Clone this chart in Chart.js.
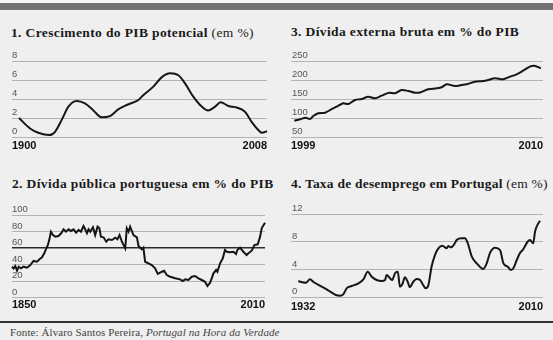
<!DOCTYPE html>
<html><head><meta charset="utf-8">
<script src="https://cdn.jsdelivr.net/npm/chart.js@4/dist/chart.umd.min.js"></script>
<style>
html,body{margin:0;padding:0;}
body{width:553px;height:340px;background:#efefef;position:relative;overflow:hidden;}
.topstrip{position:absolute;left:0;top:0;width:553px;height:3px;background:#f7f7f7;}
.band{position:absolute;left:0;top:3px;width:553px;height:7px;background:#737373;}
.title{position:absolute;font-family:"Liberation Serif",serif;font-size:13.5px;font-weight:bold;color:#1a1a1a;white-space:nowrap;line-height:16px;letter-spacing:0.37px;}
.title span{font-weight:normal;}
.rule{position:absolute;left:0;top:321px;width:553px;height:1.5px;background:#333;}
.src{position:absolute;left:10px;top:326px;font-family:"Liberation Serif",serif;font-size:11px;color:#444;white-space:nowrap;line-height:13px;letter-spacing:0.1px;}
canvas{position:absolute;}
</style></head>
<body>
<div class="topstrip"></div>
<div class="band"></div>
<div class="title" style="left:11px;top:25px;">1. Crescimento do PIB potencial <span>(em %)</span></div>
<div class="title" style="left:291px;top:24px;">3. Dívida externa bruta em % do PIB</div>
<div class="title" style="left:12px;top:176px;">2. Dívida pública portuguesa em % do PIB</div>
<div class="title" style="left:291px;top:176px;letter-spacing:0.22px;">4. Taxa de desemprego em Portugal <span>(em %)</span></div>
<canvas id="c1" width="276" height="115" style="left:0;top:45px;"></canvas>
<canvas id="c3" width="277" height="115" style="left:276px;top:45px;"></canvas>
<canvas id="c2" width="276" height="125" style="left:0;top:195px;"></canvas>
<canvas id="c4" width="277" height="125" style="left:276px;top:195px;"></canvas>
<div class="rule"></div>
<div class="src">Fonte: Álvaro Santos Pereira, <i>Portugal na Hora da Verdade</i></div>
<script>
// 1. Crescimento do PIB potencial (em %)
const pibYears = [1900,1904.8,1908.4,1913.2,1915.7,1918.6,1921.5,1925.1,1928.7,1932.4,1936,1939.6,1943.2,1946.9,1952,1954.1,1958.5,1962.2,1965.8,1969.4,1972.3,1975.9,1979.6,1982.4,1985.4,1987.8,1991.2,1994.8,1998.4,2001.3,2004.2,2005.7,2008];
const pibValues = [2.0,0.9,0.45,0.2,0.55,1.8,3.2,3.8,3.55,2.8,2.07,2.2,2.9,3.37,3.9,4.4,5.3,6.3,6.7,6.5,5.65,4.25,3.2,2.8,3.2,3.65,3.27,3.1,2.66,1.6,0.74,0.45,0.6];
const pibYTicks = [0,2,4,6,8];
const pibXLabels = ['1900','2008'];

// 3. Dívida externa bruta em % do PIB
const extYears = [1999.0,1999.27,1999.54,1999.75,1999.9,2000.14,2000.46,2000.7,2001.02,2001.33,2001.57,2001.89,2002.21,2002.52,2002.84,2003.16,2003.51,2003.8,2004.11,2004.43,2004.75,2004.99,2005.38,2005.78,2006.02,2006.26,2006.65,2006.97,2007.21,2007.6,2008.0,2008.24,2008.56,2008.95,2009.27,2009.59,2009.9,2010.22,2010.43,2010.75];
const extValues = [92.9,96.6,100.8,97.4,105.3,112.4,114,121,129.8,138.6,136.8,147.4,150,156,151.9,158.7,166.6,165,173.7,171,166.6,167,175.5,178,180.8,188.7,184.2,186.8,188.7,195.5,197.4,200,204.5,201.8,208.7,215,224.5,235,237.7,230.8];
const extYTicks = [50,100,150,200,250];
const extXLabels = ['1999','2010'];

// 2. Dívida pública portuguesa em % do PIB
const pubYears = [1850,1851,1852.1,1853.2,1854.2,1855.7,1857.3,1859.5,1861.6,1863.6,1865.8,1867.4,1869,1870.4,1871.7,1872.7,1873.8,1874.6,1875.9,1877.4,1879.4,1881.1,1882.6,1884.1,1885.8,1887.3,1888.9,1890.6,1892.1,1893.6,1895.2,1896.3,1897.4,1898.4,1899.5,1901.2,1902.6,1904.1,1905.3,1906.2,1907.9,1909.6,1911,1913.2,1915.3,1916.7,1918,1919.5,1921.6,1922.6,1923.7,1924.7,1926.8,1929,1930,1932.1,1933.1,1934.2,1936.3,1938.4,1940.5,1942.2,1944.8,1946.2,1947.9,1950,1953.2,1956.3,1958,1959.5,1961.6,1963.7,1965.8,1967.9,1970,1972.1,1973.6,1975.3,1977.4,1979.1,1979.9,1981.6,1983.3,1984.7,1985.8,1987.9,1990,1991.7,1992.5,1994.2,1996.3,1998.4,1999.5,2001.6,2003.3,2005.4,2006.9,2007.9,2010];
const pubValues = [37.5,35.5,38.3,32.6,37.5,35.5,37.5,36.3,39.5,44.4,43.5,46.4,48.8,53.7,59.7,63.7,71.8,79.8,75.8,73.8,74.6,77.9,82.7,79.8,82.7,80.7,82.7,78.6,81.9,79.8,86.7,82.7,77.9,82.7,79.8,85.1,75.8,85.9,83.9,73.8,73,67.7,70.6,69.8,72.6,70.6,75.8,67.7,59.7,83.9,79.8,85.9,75.8,73,62.5,58.5,60.5,43.5,41.6,39.5,35.5,28.7,31.4,32.6,27.4,25.4,23.5,22.2,20.2,22.2,21.4,25.4,26.2,23.5,21.4,19.3,14.1,18.1,29.5,33.5,31.4,41.6,47.6,57.7,55.6,54.9,55.6,52.8,57.7,60.5,55.6,51.6,53.7,56.8,63.7,64.6,73.8,83.9,90.7];
const pubYTicks = [0,20,40,60,80,100];
const pubXLabels = ['1850','2010'];
const pubLimit = 60;

// 4. Taxa de desemprego em Portugal (em %)
const unYears = [1932,1933.3,1934.4,1935.8,1936.8,1938.5,1940.6,1942.8,1944.1,1945.5,1946.5,1947.6,1949.2,1951.4,1953,1954.4,1955.7,1957.3,1958.9,1960,1960.5,1961.6,1962.3,1963.2,1964.1,1964.8,1965.6,1966.4,1967.3,1968,1969.1,1970.2,1971.3,1972.3,1973.1,1974,1975,1976.1,1977.2,1978.5,1979.9,1980.4,1981.3,1982.3,1983.1,1984.7,1985.8,1986.7,1988,1989.6,1991.7,1992.8,1993.9,1995.5,1997.1,1998.2,1999.6,2000.6,2001.4,2002.5,2003.5,2004.6,2006,2006.8,2007.8,2008.4,2008.9,2010];
const unValues = [2.36,2.17,2.1,2.6,2.25,1.78,1.3,0.67,0.33,0.23,0.43,1.3,1.63,2.02,2.6,3.7,2.98,2.5,2.36,2.5,3.22,2.74,2.5,3.47,3.7,1.53,1.92,2.89,2.25,1.45,2.25,2.64,2.5,1.78,1.3,1.78,4.42,6.11,7.08,7.46,7.08,7.41,7.22,7.66,8.28,8.53,8.53,7.8,5.87,4.91,4.09,4.91,6.45,7.17,6.84,4.91,4.42,3.95,4.19,5.39,6.36,6.94,8.03,8.28,7.8,9.48,10.2,11.07];
const unYTicks = [0,4,8,12];
const unXLabels = ['1932','2010'];

function panel(id, xs, ys, o) {
  const pts = xs.map((x, i) => ({x: x, y: ys[i]}));
  return new Chart(document.getElementById(id), {
    type: 'line',
    data: { datasets: [{
      data: pts, borderColor: '#161616', borderWidth: 2, pointRadius: 0,
      tension: o.tension, cubicInterpolationMode: o.mono ? 'monotone' : 'default',
      clip: false, fill: false
    }]},
    options: {
      responsive: false, animation: false, events: [],
      layout: { padding: o.pad },
      plugins: { legend: {display: false}, tooltip: {enabled: false} },
      scales: {
        x: {
          type: 'linear', min: o.xMin, max: o.xMax,
          grid: {display: false, drawTicks: false, tickLength: 0}, border: {display: false},
          afterBuildTicks: s => { s.ticks = [{value: o.xMin}, {value: o.xMax}]; },
          afterFit: s => { s.height = o.xh; },
          ticks: {
            autoSkip: false, maxRotation: 0, align: 'inner', padding: o.xpad, color: '#111',
            font: {family: 'Liberation Sans', weight: 'bold', size: 11},
            callback: (v, i) => o.xLabels[i]
          }
        },
        y: {
          type: 'linear', min: o.yMin, max: o.yMax,
          afterBuildTicks: s => { s.ticks = o.yTicks.map(v => ({value: v})); },
          afterFit: s => { s.width = 0; },
          border: {display: false},
          grid: {
            drawTicks: false, tickLength: 0,
            color: c => (o.dark !== undefined && c.tick && c.tick.value === o.dark) ? '#2b2b2b' : '#b3b3b3',
            lineWidth: c => (o.dark !== undefined && c.tick && c.tick.value === o.dark) ? 1.6 : 1
          },
          ticks: {
            mirror: true, padding: o.ypad, labelOffset: -5.5, color: '#555',
            font: {family: 'Liberation Sans', size: 9.5},
            callback: v => String(v)
          }
        }
      }
    }
  });
}

panel('c1', pibYears, pibValues, {
  xMin: 1896.95, xMax: 2008, yMin: 0, yMax: 8, yTicks: pibYTicks, xLabels: pibXLabels,
  pad: {left: 12, right: 9, top: 16, bottom: 0}, xh: 23, xpad: 2.5, ypad: 0, tension: 0.4, mono: true
});
panel('c3', extYears, extValues, {
  xMin: 1998.84, xMax: 2010.85, yMin: 50, yMax: 250, yTicks: extYTicks, xLabels: extXLabels,
  pad: {left: 15, right: 10, top: 16, bottom: 0}, xh: 23, xpad: 2, ypad: 1, tension: 0.3, mono: false
});
panel('c2', pubYears, pubValues, {
  xMin: 1850, xMax: 2010, yMin: 0, yMax: 100, yTicks: pubYTicks, xLabels: pubXLabels, dark: pubLimit,
  pad: {left: 12, right: 11, top: 20, bottom: 0}, xh: 22.3, xpad: 1, ypad: 0, tension: 0, mono: false
});
panel('c4', unYears, unValues, {
  xMin: 1929.64, xMax: 2010.97, yMin: 0, yMax: 12, yTicks: unYTicks, xLabels: unXLabels,
  pad: {left: 15, right: 10, top: 19.3, bottom: 0}, xh: 22.7, xpad: 3, ypad: 1, tension: 0.4, mono: true
});
</script>
</body></html>
